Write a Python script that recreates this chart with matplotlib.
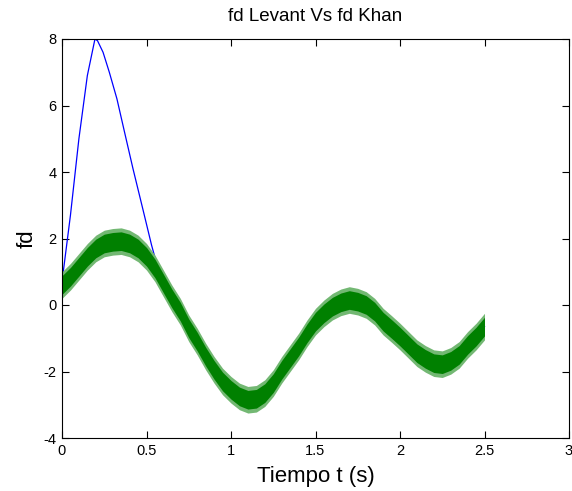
import matplotlib
matplotlib.use("Agg")
import matplotlib.pyplot as plt
import numpy as np

plt.rcParams['font.family'] = ['Liberation Sans', 'DejaVu Sans']

# Khan (green) smooth centre of the noisy signal
green_t = [0, 0.05, 0.1, 0.15, 0.2, 0.25, 0.3, 0.35, 0.4, 0.45, 0.5, 0.55, 0.6, 0.65,
           0.7, 0.75, 0.8, 0.85, 0.9, 0.95, 1.0, 1.05, 1.1, 1.15, 1.2, 1.25, 1.3, 1.35,
           1.4, 1.45, 1.5, 1.55, 1.6, 1.65, 1.7, 1.75, 1.8, 1.85, 1.9, 1.95, 2.0, 2.05,
           2.1, 2.15, 2.2, 2.25, 2.3, 2.35, 2.4, 2.45, 2.5]
green_v = [0.6, 0.85, 1.15, 1.45, 1.7, 1.85, 1.9, 1.92, 1.85, 1.7, 1.45, 1.1, 0.65, 0.2,
           -0.2, -0.7, -1.1, -1.55, -1.95, -2.3, -2.55, -2.75, -2.85, -2.82, -2.65, -2.35,
           -1.95, -1.6, -1.25, -0.85, -0.5, -0.25, -0.05, 0.08, 0.15, 0.1, 0.0, -0.2, -0.5,
           -0.72, -0.95, -1.2, -1.45, -1.62, -1.75, -1.78, -1.68, -1.5, -1.2, -0.95, -0.65]
noise_amp = 0.4

# Levant (blue): transient then converges onto the Khan signal
blue_t0 = [0, 0.05, 0.1, 0.15, 0.195, 0.21, 0.243, 0.28, 0.325, 0.37, 0.42, 0.48, 0.53, 0.6, 0.64]
blue_v0 = [0.7, 2.7, 5.0, 6.9, 8.0, 7.95, 7.6, 7.0, 6.2, 5.2, 4.1, 2.85, 1.8, 0.5, 0.05]

x_ticks = [0, 0.5, 1, 1.5, 2, 2.5, 3]
x_tick_labels = ['0', '0.5', '1', '1.5', '2', '2.5', '3']
y_ticks = [-4, -2, 0, 2, 4, 6, 8]
y_tick_labels = ['-4', '-2', '0', '2', '4', '6', '8']

blue_t = blue_t0 + [t for t in green_t if t >= 0.7]
blue_v = blue_v0 + [v for t, v in zip(green_t, green_v) if t >= 0.7]

fig = plt.figure(figsize=(5.72, 4.91), dpi=100)
ax = fig.add_axes([62/572, 1-438/491, (569-62)/572, (438-39)/491])

ax.plot(blue_t, blue_v, color=(0, 0, 1), lw=0.9, zorder=2)
gt = np.array(green_t); gv = np.array(green_v)
ax.fill_between(gt, gv - noise_amp, gv + noise_amp, color=(0.45, 0.72, 0.45), lw=0, zorder=3)
ax.fill_between(gt, gv - noise_amp*0.7, gv + noise_amp*0.7, color=(0, 0.5, 0), lw=0, zorder=4)

ax.set_xlim(0, 3)
ax.set_ylim(-4, 8)
ax.set_xticks(x_ticks)
ax.set_xticklabels(x_tick_labels)
ax.set_yticks(y_ticks)
ax.set_yticklabels(y_tick_labels)
ax.tick_params(direction='in', length=5, width=0.8, top=True, right=True,
               labelsize=10.5, pad=4)
ax.tick_params(axis='y', pad=4)
for s in ax.spines.values():
    s.set_linewidth(0.8)
    s.set_zorder(5)

ax.set_title('fd Levant Vs fd Khan', fontsize=13.5, pad=13)
ax.set_xlabel('Tiempo t (s)', fontsize=16, labelpad=6)
ax.set_ylabel('fd', fontsize=16, labelpad=4)

fig.savefig('out.png', dpi=100)
